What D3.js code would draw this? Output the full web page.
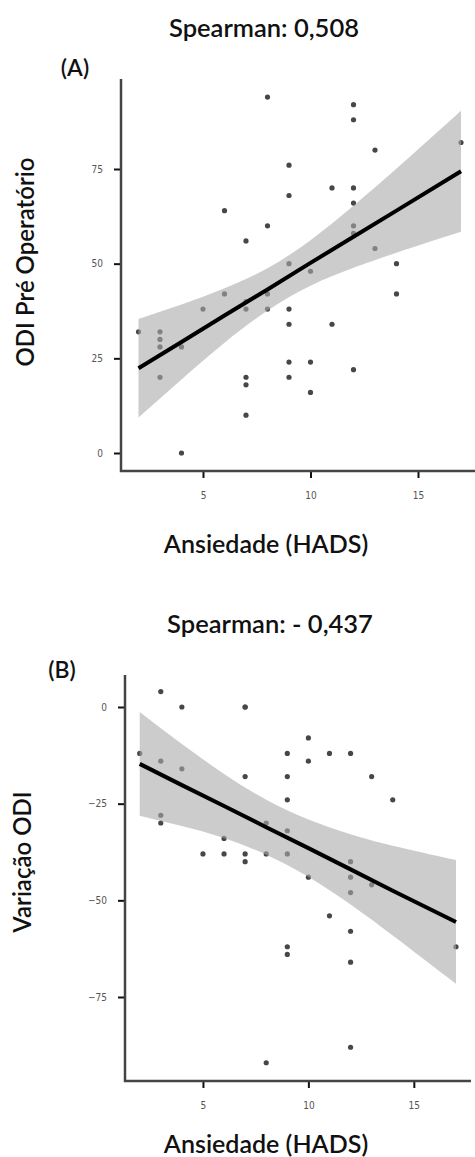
<!DOCTYPE html>
<html>
<head>
<meta charset="utf-8">
<script src="https://cdn.jsdelivr.net/npm/d3@7"></script>
<style>
  body { margin: 0; background: #fff; }
  .title { font-family: Lato, "Open Sans", sans-serif; fill: #111; font-weight: 600; }
  .tick text { font-family: "Liberation Sans Narrow", "DejaVu Sans Condensed", sans-serif; font-size: 10px; fill: #555; }
  .tick line { stroke: #111; stroke-width: 2; }
</style>
</head>
<body>
<div id="chart"></div>
<script>
// Panel A: Ansiedade (HADS) vs ODI pré operatório
const ansiedadeA = [2, 3, 3, 3, 3, 4, 4, 5, 6, 6, 7, 7, 7, 7, 7, 7, 8, 8, 8, 8, 9, 9, 9, 9, 9, 9, 9,
  10, 10, 10, 11, 11, 12, 12, 12, 12, 12, 12, 12, 13, 13, 14, 14, 17];
const odiPre = [32, 32, 30, 28, 20, 28, 0, 38, 42, 64, 56, 40, 38, 20, 18, 10, 94, 60, 42, 38, 76, 68, 50, 38, 34, 24, 20,
  48, 24, 16, 70, 34, 92, 88, 70, 66, 60, 58, 22, 80, 54, 50, 42, 82];

// Panel B: Ansiedade (HADS) vs variação ODI
const ansiedadeB = [2, 3, 3, 3, 3, 4, 4, 5, 6, 6, 7, 7, 7, 7, 7, 8, 8, 8, 9, 9, 9, 9, 9, 9, 9,
  10, 10, 10, 11, 11, 12, 12, 12, 12, 12, 12, 12, 13, 13, 14, 17];
const variacaoOdi = [-12, 4, -14, -28, -30, 0, -16, -38, -34, -38, 0, 0, -18, -38, -40, -30, -38, -92, -12, -18, -24, -32, -38, -62, -64,
  -8, -14, -44, -12, -54, -12, -40, -44, -48, -58, -66, -88, -18, -46, -24, -62];

// fitted line with confidence band
const fitX = [2, 4, 6, 8, 10, 12, 14, 17];
const fitA = [22.4, 29.3, 36.3, 43.2, 50.2, 57.1, 64.0, 74.4];
const lowerA = [9.4, 19.4, 29.1, 37.6, 44.2, 48.9, 52.9, 58.4];
const upperA = [35.4, 39.2, 43.5, 48.8, 56.2, 65.3, 75.1, 90.4];
const fitB = [-14.7, -20.2, -25.6, -31.1, -36.5, -42.0, -47.5, -55.6];
const lowerB = [-28.1, -30.8, -33.9, -38.2, -43.9, -51.1, -59.1, -71.6];
const upperB = [-1.3, -9.6, -17.3, -24.0, -29.1, -32.9, -35.9, -39.6];

const xTicks = [5, 10, 15];
const yTicksA = [0, 25, 50, 75];
const yTicksB = [0, -25, -50, -75];

const width = 475;
const height = 1157;

const svg = d3.select('#chart').append('svg')
  .attr('width', width)
  .attr('height', height);

function drawPanel(cfg) {
  const g = svg.append('g');

  const x = d3.scaleLinear().domain([2, 17]).range(cfg.xRange);
  const y = d3.scaleLinear().domain(cfg.yDomain).range(cfg.yRange);

  // points
  g.append('g')
    .selectAll('circle')
    .data(d3.zip(cfg.xs, cfg.ys))
    .join('circle')
    .attr('cx', (d) => x(d[0]))
    .attr('cy', (d) => y(d[1]))
    .attr('r', 2.6)
    .attr('fill', '#474747');

  const rows = fitX.map((v, i) => ({ x: v, fit: cfg.fit[i], lo: cfg.lower[i], hi: cfg.upper[i] }));

  // confidence band over the points
  g.append('path')
    .datum(rows)
    .attr('d', d3.area()
      .x((d) => x(d.x))
      .y0((d) => y(d.lo))
      .y1((d) => y(d.hi))
      .curve(d3.curveNatural))
    .attr('fill', '#aaa')
    .attr('fill-opacity', 0.6);

  g.append('path')
    .datum(rows)
    .attr('d', d3.line().x((d) => x(d.x)).y((d) => y(d.fit)))
    .attr('fill', 'none')
    .attr('stroke', '#000')
    .attr('stroke-width', 4);

  // axes
  const yAxis = g.append('g')
    .attr('transform', `translate(${cfg.box.left}, 0)`)
    .call(d3.axisLeft(y).tickValues(cfg.yTicks).tickSize(7).tickPadding(11));
  yAxis.select('.domain').remove();

  const xAxis = g.append('g')
    .attr('transform', `translate(0, ${cfg.box.bottom})`)
    .call(d3.axisBottom(x).tickValues(xTicks).tickSize(7).tickPadding(14));
  xAxis.select('.domain').remove();

  g.append('path')
    .attr('d', `M${cfg.box.left},${cfg.box.top}V${cfg.box.bottom}H${cfg.box.right}`)
    .attr('fill', 'none')
    .attr('stroke', '#444')
    .attr('stroke-width', 2.5);

  // labels
  g.append('text').attr('class', 'title')
    .attr('x', cfg.titleX).attr('y', cfg.titleY)
    .attr('text-anchor', 'middle').style('font-size', '25.5px')
    .text(cfg.title);

  g.append('text').attr('class', 'title')
    .attr('x', cfg.tagX).attr('y', cfg.tagY)
    .attr('text-anchor', 'middle').style('font-size', '23px')
    .text(cfg.tag);

  g.append('text').attr('class', 'title')
    .attr('transform', `translate(${cfg.yLabelX}, ${cfg.yLabelY}) rotate(-90)`)
    .attr('text-anchor', 'middle').style('font-size', '24px')
    .text(cfg.yLabel);

  g.append('text').attr('class', 'title')
    .attr('x', 266).attr('y', cfg.xLabelY)
    .attr('text-anchor', 'middle').style('font-size', '25px')
    .text('Ansiedade (HADS)');
}

drawPanel({
  xs: ansiedadeA, ys: odiPre,
  fit: fitA, lower: lowerA, upper: upperA,
  xRange: [138.5, 461], yDomain: [0, 75], yRange: [453, 169],
  box: { left: 121, right: 475, top: 79, bottom: 471 },
  yTicks: yTicksA,
  title: 'Spearman: 0,508', titleX: 264, titleY: 37,
  tag: '(A)', tagX: 75, tagY: 76,
  yLabel: 'ODI Pré Operatório', yLabelX: 34, yLabelY: 262,
  xLabelY: 553
});

drawPanel({
  xs: ansiedadeB, ys: variacaoOdi,
  fit: fitB, lower: lowerB, upper: upperB,
  xRange: [139.7, 456], yDomain: [0, -75], yRange: [707, 997],
  box: { left: 125, right: 471, top: 675, bottom: 1081 },
  yTicks: yTicksB,
  title: 'Spearman: - 0,437', titleX: 270, titleY: 633,
  tag: '(B)', tagX: 62, tagY: 678,
  yLabel: 'Variação ODI', yLabelX: 31, yLabelY: 862,
  xLabelY: 1153
});
</script>
</body>
</html>
